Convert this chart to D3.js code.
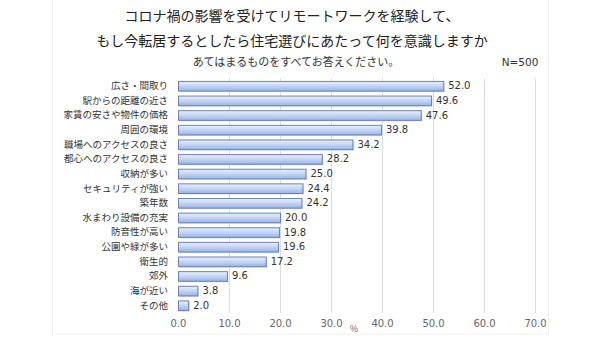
<!DOCTYPE html>
<html>
<head>
<meta charset="utf-8">
<script src="https://cdn.jsdelivr.net/npm/d3@7"></script>
<style>
  body { margin: 0; background: #fff; }
  text { font-family: "Noto Sans CJK JP", sans-serif; }
  .num { font-family: "DejaVu Sans", Verdana, sans-serif; }
</style>
</head>
<body>
<div id="target"></div>
<script>
const width = 600;
const height = 338;

const titleLines = [
  'コロナ禍の影響を受けてリモートワークを経験して、',
  'もし今転居するとしたら住宅選びにあたって何を意識しますか',
];
const subtitle = 'あてはまるものをすべてお答えください。';
const sampleNote = 'N=500';

const categories = [
  '広さ・間取り', '駅からの距離の近さ', '家賃の安さや物件の価格', '周囲の環境',
  '職場へのアクセスの良さ', '都心へのアクセスの良さ', '収納が多い', 'セキュリティが強い',
  '築年数', '水まわり設備の充実', '防音性が高い', '公園や緑が多い',
  '衛生的', '郊外', '海が近い', 'その他',
];
const values = [52.0, 49.6, 47.6, 39.8, 34.2, 28.2, 25.0, 24.4, 24.2, 20.0, 19.8, 19.6, 17.2, 9.6, 3.8, 2.0];
const tickValues = [0, 10, 20, 30, 40, 50, 60, 70];

const svg = d3.select('#target').append('svg').attr('width', width).attr('height', height);

const defs = svg.append('defs');
const grad = defs.append('linearGradient').attr('id', 'barFill').attr('x1', 0).attr('y1', 0).attr('x2', 0).attr('y2', 1);
grad.append('stop').attr('offset', '0%').attr('stop-color', '#eaf0fc');
grad.append('stop').attr('offset', '45%').attr('stop-color', '#c6d7f6');
grad.append('stop').attr('offset', '100%').attr('stop-color', '#98b3e6');

// faint frame of the original picture
svg.append('rect')
  .attr('x', 52.5).attr('y', -1).attr('width', 496).attr('height', 335)
  .attr('fill', 'none').attr('stroke', '#f0f0f0');

const x = d3.scaleLinear().domain([0, 70]).range([178, 535]);
const y = d3.scaleBand().domain(categories).range([78, 313]).paddingInner(0.34).paddingOuter(0.2);

// gridlines
svg.selectAll('.grid')
  .data(tickValues.slice(1))
  .enter()
  .append('line')
  .attr('class', 'grid')
  .attr('x1', (d) => x(d) + 0.5)
  .attr('x2', (d) => x(d) + 0.5)
  .attr('y1', 78)
  .attr('y2', 313)
  .attr('stroke', '#dcdcdc');

// tick labels
const axis = d3.axisBottom(x).tickValues(tickValues).tickSize(0).tickPadding(0).tickFormat(d3.format('.1f'));
const gAxis = svg.append('g').attr('transform', 'translate(0,320)').call(axis);
gAxis.select('.domain').remove();
gAxis.selectAll('text')
  .attr('class', 'num')
  .attr('font-size', 10)
  .attr('fill', '#666');

svg.append('text')
  .attr('x', 354).attr('y', 332)
  .attr('font-size', 9).attr('fill', '#666')
  .attr('text-anchor', 'middle')
  .text('%');

// bar shadows
svg.selectAll('.shadow')
  .data(values)
  .enter()
  .append('rect')
  .attr('class', 'shadow')
  .attr('x', x(0) + 1.5)
  .attr('y', (d, i) => y(categories[i]) + 1.5)
  .attr('width', (d) => x(d) - x(0))
  .attr('height', y.bandwidth())
  .attr('fill', '#c8c8c8')
  .attr('opacity', 0.6);

// bars
svg.selectAll('.bar')
  .data(values)
  .enter()
  .append('rect')
  .attr('class', 'bar')
  .attr('x', x(0) + 0.5)
  .attr('y', (d, i) => y(categories[i]) + 0.5)
  .attr('width', (d) => x(d) - x(0))
  .attr('height', y.bandwidth())
  .attr('fill', 'url(#barFill)')
  .attr('stroke', '#6a82b6')
  .attr('stroke-width', 1);

// value labels
svg.selectAll('.val')
  .data(values)
  .enter()
  .append('text')
  .attr('class', 'num')
  .attr('x', (d) => x(d) + 5)
  .attr('y', (d, i) => y(categories[i]) + y.bandwidth() / 2)
  .attr('dy', '0.35em')
  .attr('font-size', 10)
  .attr('fill', '#333')
  .text((d) => d.toFixed(1));

// category labels
svg.selectAll('.cat')
  .data(categories)
  .enter()
  .append('text')
  .attr('class', 'cat')
  .attr('x', 168)
  .attr('y', (d) => y(d) + y.bandwidth() / 2)
  .attr('dy', '0.35em')
  .attr('text-anchor', 'end')
  .attr('font-size', 9.5)
  .attr('fill', '#333')
  .text((d) => d);

// titles
svg.selectAll('.title')
  .data(titleLines)
  .enter()
  .append('text')
  .attr('class', 'title')
  .attr('x', 292)
  .attr('y', (d, i) => 21 + i * 25)
  .attr('text-anchor', 'middle')
  .attr('font-size', 14)
  .attr('fill', '#222')
  .text((d) => d);

svg.append('text')
  .attr('x', 296).attr('y', 66)
  .attr('text-anchor', 'middle')
  .attr('font-size', 11)
  .attr('fill', '#333')
  .text(subtitle);

svg.append('text')
  .attr('class', 'num')
  .attr('x', 520).attr('y', 66)
  .attr('text-anchor', 'middle')
  .attr('font-size', 10.5)
  .attr('fill', '#333')
  .text(sampleNote);
</script>
</body>
</html>
